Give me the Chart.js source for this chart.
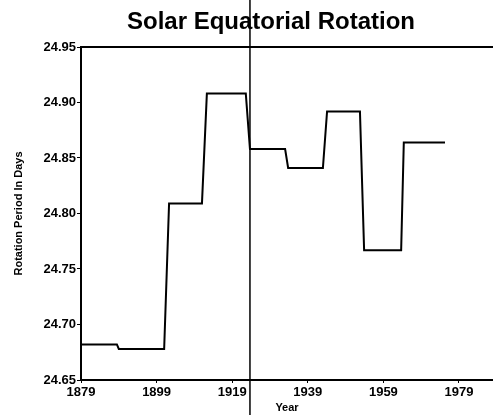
<!DOCTYPE html>
<html>
<head>
<meta charset="utf-8">
<script src="https://cdn.jsdelivr.net/npm/chart.js@4"></script>
<style>
  body { margin: 0; background: #fff; }
  #wrap { position: relative; width: 493px; height: 415px; }
  #title {
    position: absolute; top: 9px; left: 116px; width: 310px;
    text-align: center; white-space: nowrap;
    font: bold 24px "Liberation Sans", Arial, sans-serif; line-height: 24px;
    color: #000;
  }
  canvas { position: absolute; left: 0; top: 0; }
</style>
</head>
<body>
<div id="wrap">
  <canvas id="rotationChart" width="493" height="415"></canvas>
  <div id="title">Solar Equatorial Rotation</div>
</div>
<script>
// Data (step-like curve)
const years = [1879, 1888.5, 1889, 1901, 1902.3, 1911, 1912.3, 1922.6, 1923.7,
               1933, 1933.8, 1943, 1944.1, 1952.8, 1953.9, 1963.7, 1964.4, 1975.3];
const periods = [24.682, 24.682, 24.678, 24.678, 24.809, 24.809, 24.908, 24.908, 24.858,
                 24.858, 24.841, 24.841, 24.892, 24.892, 24.767, 24.767, 24.864, 24.864];
const xTicks = [1879, 1899, 1919, 1939, 1959, 1979];
const yTicks = [24.65, 24.70, 24.75, 24.80, 24.85, 24.90, 24.95];
const creaseYear = 1923.7; // vertical crease across the scan

const font = 'Liberation Sans, Arial, sans-serif';

// vertical crease line through the whole picture
const creasePlugin = {
  id: 'crease',
  afterDraw(chart) {
    const ctx = chart.ctx;
    const x = chart.scales.x.getPixelForValue(creaseYear);
    ctx.save();
    ctx.strokeStyle = '#000';
    ctx.lineWidth = 1.5;
    ctx.beginPath();
    ctx.moveTo(x, 0);
    ctx.lineTo(x, chart.height);
    ctx.stroke();
    ctx.restore();
  }
};

const ctx = document.getElementById('rotationChart').getContext('2d');
new Chart(ctx, {
  type: 'line',
  data: {
    datasets: [{
      data: years.map((x, i) => ({ x: x, y: periods[i] })),
      borderColor: '#000',
      borderWidth: 2,
      pointRadius: 0,
      tension: 0,
      fill: false
    }]
  },
  options: {
    responsive: false,
    animation: false,
    layout: { padding: { top: 47, right: 0, bottom: 0, left: 0 } },
    plugins: { legend: { display: false }, tooltip: { enabled: false } },
    scales: {
      x: {
        type: 'linear',
        min: 1879,
        max: 1988,
        afterBuildTicks: s => { s.ticks = xTicks.map(v => ({ value: v })); },
        afterFit: s => { s.height = 35; },
        ticks: {
          color: '#000',
          padding: 2,
          maxRotation: 0,
          font: { family: font, size: 13, weight: 'bold' },
          callback: v => String(v)
        },
        grid: { display: true, drawOnChartArea: false, drawTicks: true, tickLength: 3, color: '#000', lineWidth: 1 },
        border: { display: true, color: '#000', width: 2 },
        title: {
          display: true,
          text: 'Year',
          color: '#000',
          font: { family: font, size: 11, weight: 'bold' },
          padding: { top: 0, bottom: 0 }
        }
      },
      xTop: {
        type: 'linear',
        position: 'top',
        min: 1879,
        max: 1988,
        afterFit: s => { s.height = 0; },
        ticks: { display: false },
        grid: { display: false },
        border: { display: true, color: '#000', width: 2 }
      },
      y: {
        type: 'linear',
        min: 24.65,
        max: 24.95,
        afterBuildTicks: s => { s.ticks = yTicks.map(v => ({ value: v })); },
        afterFit: s => { s.width = 81; },
        ticks: {
          color: '#000',
          padding: 1,
          font: { family: font, size: 13, weight: 'bold' },
          callback: v => Number(v).toFixed(2)
        },
        grid: { display: true, drawOnChartArea: false, drawTicks: true, tickLength: 4, color: '#000', lineWidth: 1 },
        border: { display: true, color: '#000', width: 2 },
        title: {
          display: true,
          text: 'Rotation Period In Days',
          color: '#000',
          font: { family: font, size: 11, weight: 'bold' },
          padding: { top: 12, bottom: 0 }
        }
      }
    }
  },
  plugins: [creasePlugin]
});
</script>
</body>
</html>
